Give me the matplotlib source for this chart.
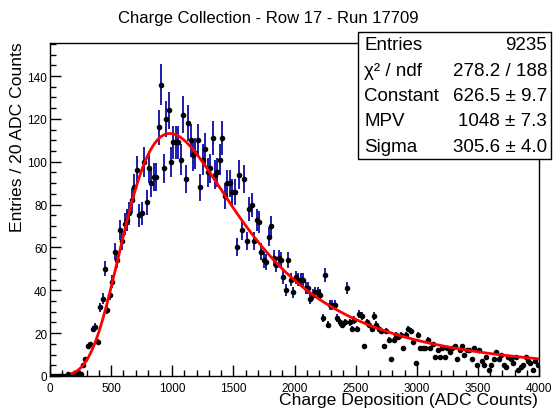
'''
    Charge Collection - Landau fit
'''
import numpy as np
import matplotlib
matplotlib.use('Agg')
from matplotlib import pyplot as plt
from matplotlib.patches import Rectangle
from matplotlib.ticker import MultipleLocator

plt.rcParams['font.family'] = ['Liberation Sans', 'DejaVu Sans']

# Histogram contents, 20 ADC per bin, 0 - 4000
bin_width = 20
counts = [
    0, 0, 0, 0, 0, 0, 0, 1, 0, 1,
    1, 2, 1, 5, 8, 14, 15, 22, 23, 16,
    32, 36, 50, 31, 38, 44, 58, 54, 68, 63,
    71, 73, 76, 82, 88, 96, 75, 76, 100, 81,
    97, 90, 93, 93, 116, 136, 97, 120, 124, 100,
    109, 109, 109, 101, 122, 92, 118, 110, 103, 104,
    110, 88, 101, 106, 95, 97, 111, 94, 95, 101,
    111, 84, 90, 90, 86, 86, 60, 94, 68, 92,
    63, 78, 80, 63, 73, 72, 58, 54, 53, 65,
    70, 55, 52, 55, 54, 46, 40, 54, 45, 39,
    46, 45, 45, 45, 41, 41, 36, 38, 39, 39,
    38, 27, 47, 24, 33, 33, 33, 27, 25, 24,
    25, 41, 25, 22, 26, 22, 29, 28, 14, 25,
    24, 22, 28, 24, 22, 21, 14, 21, 17, 8,
    17, 19, 18, 19, 13, 19, 22, 21, 16, 6,
    19, 13, 13, 13, 17, 13, 15, 9, 12, 9,
    13, 9, 13, 11, 13, 14, 8, 12, 14, 10,
    12, 12, 8, 13, 5, 12, 7, 5, 9, 3,
    5, 8, 11, 8, 10, 5, 4, 9, 8, 6,
    9, 3, 4, 5, 9, 7, 6, 3, 7, 5,
]

# Fit results (stats box)
entries = 9235
chi2, ndf = 278.2, 188
fit_const, fit_const_err = 626.5, 9.7
fit_mpv, fit_mpv_err = 1048, 7.3
fit_sigma, fit_sigma_err = 305.6, 4.0

counts = np.array(counts, dtype=float)
x = np.arange(len(counts)) * bin_width + bin_width / 2
errs = 0.07 * counts


# Landau density (same as TMath::Landau, not normalised by sigma)
def landau(lam):
    t = np.linspace(1e-9, 60, 120001)
    out = []
    for l in lam:
        g = np.exp(-t * np.log(t) - l * t) * np.sin(np.pi * t)
        out.append(np.trapezoid(g, t) / np.pi)
    return np.array(out)


xf = np.linspace(180, 4000, 400)
yf = fit_const * landau((xf - fit_mpv) / fit_sigma)

fig = plt.figure(figsize=(5.53, 4.10), dpi=100)
ax = fig.add_axes([50 / 553, 33 / 410, 489 / 553, 333 / 410])

ax.errorbar(x, counts, yerr=errs, fmt='none', ecolor='#1c1ca8', elinewidth=1.4, capsize=0, zorder=2)
ax.plot(x, counts, 'o', color='black', markersize=3, zorder=3)
ax.plot(xf, yf, color='red', linewidth=2.0, zorder=4)

ax.set_xlim(0, 4000)
ax.set_ylim(0, 155.4)
ax.xaxis.set_major_locator(MultipleLocator(500))
ax.xaxis.set_minor_locator(MultipleLocator(100))
ax.yaxis.set_major_locator(MultipleLocator(20))
ax.yaxis.set_minor_locator(MultipleLocator(5))
ax.tick_params(which='both', direction='in', top=False, right=False, labelsize=8.5)
ax.tick_params(axis='x', pad=4)
ax.tick_params(axis='y', pad=2)
ax.tick_params(which='major', length=8, width=1)
ax.tick_params(which='minor', length=4, width=1)
for s in ax.spines.values():
    s.set_linewidth(1.0)

fig.text(268 / 553, 1 - 18 / 410, 'Charge Collection - Row 17 - Run 17709',
         ha='center', va='center', fontsize=12)
fig.text(538 / 553, 1 - 401 / 410, 'Charge Deposition (ADC Counts)',
         ha='right', va='center', fontsize=12.6)
fig.text(18 / 553, 1 - 42 / 410, 'Entries / 20 ADC Counts',
         ha='center', va='top', rotation=90, fontsize=12.6)

# Stats box
bx0, by0, bx1, by1 = 358, 33, 551, 160
fig.patches.append(Rectangle((bx0 / 553, 1 - by1 / 410), (bx1 - bx0) / 553, (by1 - by0) / 410,
                             transform=fig.transFigure, facecolor='white',
                             edgecolor='black', linewidth=1.0, zorder=5))
rows = [
    ('Entries', str(entries)),
    ('χ² / ndf', '%.1f / %d' % (chi2, ndf)),
    ('Constant', '%.1f ± %.1f' % (fit_const, fit_const_err)),
    ('MPV', '%d ± %.1f' % (fit_mpv, fit_mpv_err)),
    ('Sigma', '%.1f ± %.1f' % (fit_sigma, fit_sigma_err)),
]
row_h = (by1 - by0) / len(rows)
for i, (lab, val) in enumerate(rows):
    yy = 1 - (by0 + row_h * (i + 0.5)) / 410
    fig.text(364 / 553, yy, lab, ha='left', va='center', fontsize=13.5, zorder=6)
    fig.text(547 / 553, yy, val, ha='right', va='center', fontsize=13.5, zorder=6)

fig.savefig('out.png', dpi=100)
